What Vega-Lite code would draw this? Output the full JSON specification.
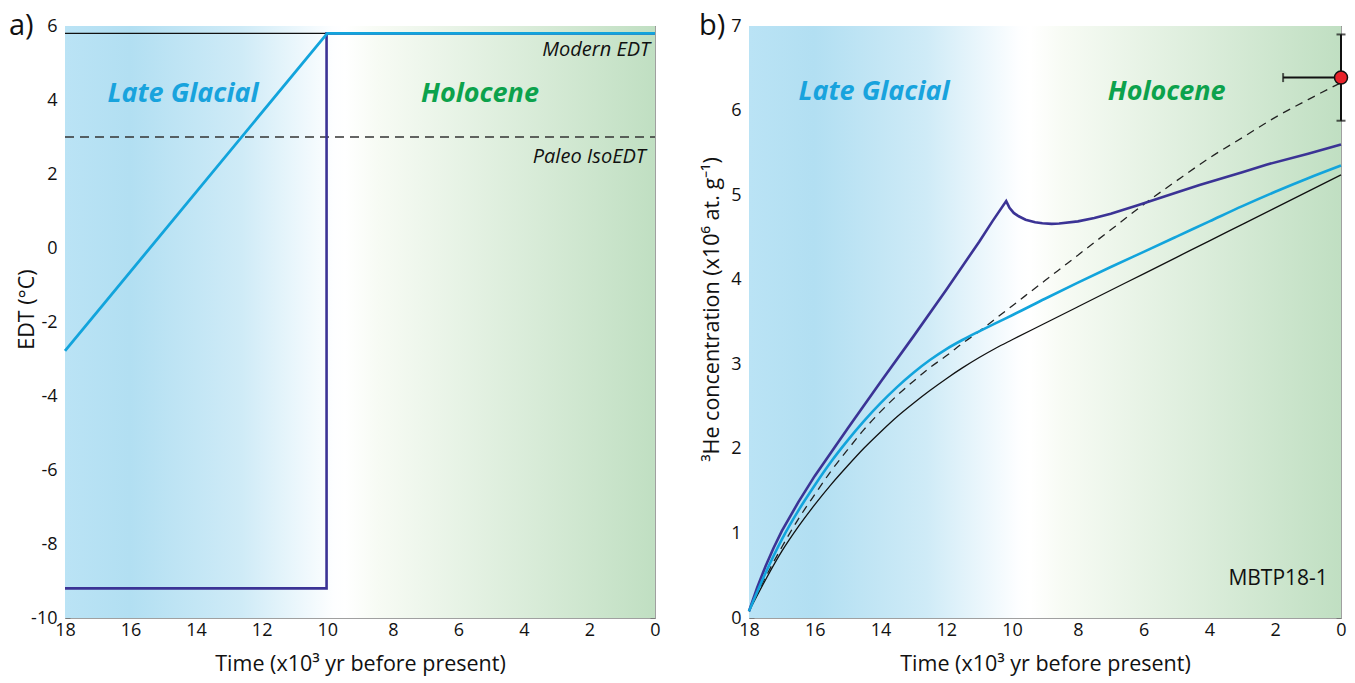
{
  "$schema": "https://vega.github.io/schema/vega-lite/v6.json",
  "background": "white",
  "padding": {"left": 8, "top": 11, "right": 5, "bottom": 4},
  "spacing": 36,
  "config": {
    "font": "Open Sans",
    "view": {"stroke": "#a0a0a0", "strokeWidth": 1},
    "axis": {
      "grid": false, "zindex": 1, "domainColor": "#a0a0a0", "domainWidth": 1,
      "tickColor": "#7a7a7a", "tickWidth": 1, "tickSize": -5,
      "labelColor": "#111111", "labelFontSize": 18, "labelFlush": false, "labelOverlap": false,
      "titleColor": "#111111", "titleFontSize": 21.5, "titleFontWeight": "normal",
      "labelExpr": "'' + datum.value"
    },
    "axisX": {"labelPadding": 8, "titlePadding": 14},
    "axisY": {"labelPadding": 13},
    "title": {"fontSize": 29, "fontWeight": "normal", "color": "#111111", "anchor": "start", "frame": "bounds"}
  },
  "datasets": {
    "edtModern": [{"t": 18, "v": 5.8}, {"t": 0, "v": 5.8}],
    "edtPaleo": [{"t": 18, "v": 3}, {"t": 0, "v": 3}],
    "edtStep": [{"t": 18, "v": -9.2}, {"t": 10.02, "v": -9.2}, {"t": 10.02, "v": 5.8}, {"t": 0, "v": 5.8}],
    "edtRamp": [{"t": 18, "v": -2.78}, {"t": 10.0, "v": 5.8}, {"t": 0, "v": 5.8}],
    "heBlack": [
      {"t": 18, "v": 0.08}, {"t": 17.5, "v": 0.45}, {"t": 17, "v": 0.79}, {"t": 16.5, "v": 1.08}, {"t": 16, "v": 1.34},
      {"t": 15.5, "v": 1.58}, {"t": 15, "v": 1.8}, {"t": 14.5, "v": 2.01}, {"t": 14, "v": 2.2}, {"t": 13.5, "v": 2.38},
      {"t": 13, "v": 2.54}, {"t": 12.5, "v": 2.69}, {"t": 12, "v": 2.83}, {"t": 11.5, "v": 2.96}, {"t": 11, "v": 3.08},
      {"t": 10.5, "v": 3.19}, {"t": 10, "v": 3.29}, {"t": 9, "v": 3.485}, {"t": 8, "v": 3.68}, {"t": 7, "v": 3.875},
      {"t": 6, "v": 4.07}, {"t": 5, "v": 4.265}, {"t": 4, "v": 4.46}, {"t": 3, "v": 4.655}, {"t": 2, "v": 4.85},
      {"t": 1, "v": 5.045}, {"t": 0, "v": 5.24}
    ],
    "heDashed": [
      {"t": 18, "v": 0.08}, {"t": 17.5, "v": 0.48}, {"t": 17, "v": 0.84}, {"t": 16.5, "v": 1.17}, {"t": 16, "v": 1.46},
      {"t": 15.5, "v": 1.74}, {"t": 15, "v": 1.99}, {"t": 14.5, "v": 2.23}, {"t": 14, "v": 2.44}, {"t": 13.5, "v": 2.63},
      {"t": 13, "v": 2.8}, {"t": 12.5, "v": 2.96}, {"t": 12, "v": 3.1}, {"t": 11.5, "v": 3.25}, {"t": 11, "v": 3.39},
      {"t": 10.4, "v": 3.57}, {"t": 10, "v": 3.69}, {"t": 9, "v": 3.99}, {"t": 8, "v": 4.29}, {"t": 7, "v": 4.59},
      {"t": 6, "v": 4.89}, {"t": 5, "v": 5.17}, {"t": 4, "v": 5.44}, {"t": 3, "v": 5.68}, {"t": 2, "v": 5.92},
      {"t": 1, "v": 6.13}, {"t": 0, "v": 6.33}
    ],
    "heCyan": [
      {"t": 18, "v": 0.08}, {"t": 17.5, "v": 0.53}, {"t": 17, "v": 0.93}, {"t": 16.5, "v": 1.27}, {"t": 16, "v": 1.57},
      {"t": 15.5, "v": 1.85}, {"t": 15, "v": 2.1}, {"t": 14.5, "v": 2.33}, {"t": 14, "v": 2.54}, {"t": 13.5, "v": 2.73},
      {"t": 13, "v": 2.9}, {"t": 12.5, "v": 3.05}, {"t": 12, "v": 3.18}, {"t": 11.5, "v": 3.29}, {"t": 11, "v": 3.39},
      {"t": 10.4, "v": 3.505}, {"t": 10, "v": 3.58}, {"t": 9, "v": 3.775}, {"t": 8, "v": 3.965}, {"t": 7, "v": 4.15},
      {"t": 6, "v": 4.33}, {"t": 5, "v": 4.51}, {"t": 4, "v": 4.69}, {"t": 3, "v": 4.87}, {"t": 2, "v": 5.04},
      {"t": 1, "v": 5.2}, {"t": 0, "v": 5.35}
    ],
    "hePurple": [
      {"t": 18, "v": 0.08}, {"t": 17.75, "v": 0.36}, {"t": 17.5, "v": 0.61}, {"t": 17.25, "v": 0.83}, {"t": 17, "v": 1.03},
      {"t": 16.5, "v": 1.37}, {"t": 16, "v": 1.68}, {"t": 15.5, "v": 1.96}, {"t": 15, "v": 2.24}, {"t": 14, "v": 2.79},
      {"t": 13, "v": 3.33}, {"t": 12, "v": 3.88}, {"t": 11, "v": 4.45}, {"t": 10.6, "v": 4.69},
      {"t": 10.18, "v": 4.93}, {"t": 10.08, "v": 4.85}, {"t": 9.95, "v": 4.79}, {"t": 9.8, "v": 4.75}, {"t": 9.59, "v": 4.71}, {"t": 9.3, "v": 4.68},
      {"t": 9.08, "v": 4.667}, {"t": 8.8, "v": 4.66}, {"t": 8.57, "v": 4.664}, {"t": 8.0, "v": 4.69}, {"t": 7.5, "v": 4.73},
      {"t": 7.0, "v": 4.78}, {"t": 6.18, "v": 4.88}, {"t": 5.0, "v": 5.03}, {"t": 4.3, "v": 5.12}, {"t": 3.0, "v": 5.27},
      {"t": 2.27, "v": 5.36}, {"t": 1.0, "v": 5.49}, {"t": 0, "v": 5.6}
    ],
    "sample": [{"t": 0, "v": 6.39, "vlo": 5.88, "vhi": 6.9, "tlo": 0, "thi": 1.76}],
    "periodA": [{"t": 14.4, "v": 4.16, "label": "Late Glacial", "period": "glacial"}, {"t": 5.34, "v": 4.16, "label": "Holocene", "period": "holocene"}],
    "periodB": [{"t": 14.2, "v": 6.22, "label": "Late Glacial", "period": "glacial"}, {"t": 5.3, "v": 6.22, "label": "Holocene", "period": "holocene"}],
    "refA": [{"t": 0.15, "v": 5.36, "label": "Modern EDT"}, {"t": 0.28, "v": 2.47, "label": "Paleo IsoEDT"}],
    "siteB": [{"t": 0.4, "v": 0.46, "label": "MBTP18-1"}]
  },
  "hconcat": [
    {
      "width": 590,
      "height": 592,
      "title": {"text": "a)", "offset": -24, "dx": -7},
      "resolve": {"axis": {"x": "independent", "y": "independent"}},
      "layer": [
        {
          "data": {"values": [{}]},
          "mark": {"type": "rect", "color": {"gradient": "linear", "x1": 0, "x2": 1, "y1": 0, "y2": 0, "stops": [
            {"offset": 0, "color": "#bae3f5"}, {"offset": 0.11, "color": "#b2dff2"}, {"offset": 0.3, "color": "#cfebf7"},
            {"offset": 0.455, "color": "#fdfeff"}, {"offset": 0.475, "color": "#ffffff"}, {"offset": 0.53, "color": "#f7fbf4"}, {"offset": 1, "color": "#c0dfc2"}]}},
          "encoding": {
            "x": {"datum": 18, "type": "quantitative", "scale": {"domain": [0, 18], "reverse": true, "nice": false, "zero": false}, "axis": null},
            "x2": {"datum": 0},
            "y": {"datum": -10, "type": "quantitative", "scale": {"domain": [-10, 6], "nice": false, "zero": false}, "axis": null},
            "y2": {"datum": 6}
          }
        },
        {
          "data": {"name": "edtModern"},
          "mark": {"type": "line", "color": "#111111", "strokeWidth": 1.3},
          "encoding": {
            "x": {"field": "t", "type": "quantitative", "scale": {"domain": [0, 18], "reverse": true, "nice": false, "zero": false},
              "axis": {"orient": "bottom", "values": [0, 2, 4, 6, 8, 10, 12, 14, 16, 18], "title": "Time (x10³ yr before present)"}},
            "y": {"field": "v", "type": "quantitative", "scale": {"domain": [-10, 6], "nice": false, "zero": false},
              "axis": {"orient": "left", "values": [-10, -8, -6, -4, -2, 0, 2, 4, 6], "title": "EDT (°C)", "minExtent": 25, "maxExtent": 25, "titlePadding": 2, "titleY": 283}}
          }
        },
        {
          "data": {"name": "edtPaleo"},
          "mark": {"type": "line", "color": "#333333", "strokeWidth": 1.3, "strokeDash": [9, 6]},
          "encoding": {
            "x": {"field": "t", "type": "quantitative", "scale": {"domain": [0, 18], "reverse": true, "nice": false, "zero": false},
              "axis": {"orient": "top", "values": [0, 2, 4, 6, 8, 10, 12, 14, 16, 18], "labels": false, "title": null}},
            "y": {"field": "v", "type": "quantitative", "scale": {"domain": [-10, 6], "nice": false, "zero": false},
              "axis": {"orient": "right", "values": [-10, -8, -6, -4, -2, 0, 2, 4, 6], "labels": false, "title": null}}
          }
        },
        {
          "data": {"name": "edtStep"},
          "mark": {"type": "line", "color": "#3b3395", "strokeWidth": 2.6},
          "encoding": {
            "x": {"field": "t", "type": "quantitative", "scale": {"domain": [0, 18], "reverse": true, "nice": false, "zero": false}, "axis": null},
            "y": {"field": "v", "type": "quantitative", "scale": {"domain": [-10, 6], "nice": false, "zero": false}, "axis": null},
            "order": {"value": null}
          }
        },
        {
          "data": {"name": "edtRamp"},
          "mark": {"type": "line", "color": "#12a4dc", "strokeWidth": 2.8},
          "encoding": {
            "x": {"field": "t", "type": "quantitative", "scale": {"domain": [0, 18], "reverse": true, "nice": false, "zero": false}, "axis": null},
            "y": {"field": "v", "type": "quantitative", "scale": {"domain": [-10, 6], "nice": false, "zero": false}, "axis": null}
          }
        },
        {
          "data": {"name": "periodA"},
          "mark": {"type": "text", "fontSize": 27, "fontWeight": "bold", "fontStyle": "italic", "align": "center", "baseline": "middle"},
          "encoding": {
            "x": {"field": "t", "type": "quantitative", "scale": {"domain": [0, 18], "reverse": true, "nice": false, "zero": false}, "axis": null},
            "y": {"field": "v", "type": "quantitative", "scale": {"domain": [-10, 6], "nice": false, "zero": false}, "axis": null},
            "text": {"field": "label"},
            "color": {"field": "period", "type": "nominal", "scale": {"domain": ["glacial", "holocene"], "range": ["#18a3dd", "#0ca24c"]}, "legend": null}
          }
        },
        {
          "data": {"name": "refA"},
          "mark": {"type": "text", "fontSize": 20, "fontStyle": "italic", "align": "right", "baseline": "middle", "color": "#111111"},
          "encoding": {
            "x": {"field": "t", "type": "quantitative", "scale": {"domain": [0, 18], "reverse": true, "nice": false, "zero": false}, "axis": null},
            "y": {"field": "v", "type": "quantitative", "scale": {"domain": [-10, 6], "nice": false, "zero": false}, "axis": null},
            "text": {"field": "label"}
          }
        }
      ]
    },
    {
      "width": 592,
      "height": 592,
      "title": {"text": "b)", "offset": -24, "dx": -2},
      "resolve": {"axis": {"x": "independent", "y": "independent"}},
      "layer": [
        {
          "data": {"values": [{}]},
          "mark": {"type": "rect", "color": {"gradient": "linear", "x1": 0, "x2": 1, "y1": 0, "y2": 0, "stops": [
            {"offset": 0, "color": "#bae3f5"}, {"offset": 0.11, "color": "#b2dff2"}, {"offset": 0.3, "color": "#cfebf7"},
            {"offset": 0.455, "color": "#fdfeff"}, {"offset": 0.475, "color": "#ffffff"}, {"offset": 0.53, "color": "#f7fbf4"}, {"offset": 1, "color": "#c0dfc2"}]}},
          "encoding": {
            "x": {"datum": 18, "type": "quantitative", "scale": {"domain": [0, 18], "reverse": true, "nice": false, "zero": false}, "axis": null},
            "x2": {"datum": 0},
            "y": {"datum": 0, "type": "quantitative", "scale": {"domain": [0, 7], "nice": false, "zero": false}, "axis": null},
            "y2": {"datum": 7}
          }
        },
        {
          "data": {"name": "heBlack"},
          "mark": {"type": "line", "color": "#111111", "strokeWidth": 1.3, "interpolate": "monotone"},
          "encoding": {
            "x": {"field": "t", "type": "quantitative", "scale": {"domain": [0, 18], "reverse": true, "nice": false, "zero": false},
              "axis": {"orient": "bottom", "values": [0, 2, 4, 6, 8, 10, 12, 14, 16, 18], "title": "Time (x10³ yr before present)"}},
            "y": {"field": "v", "type": "quantitative", "scale": {"domain": [0, 7], "nice": false, "zero": false},
              "axis": {"orient": "left", "values": [0, 1, 2, 3, 4, 5, 6, 7], "title": "³He concentration (x10⁶ at. g⁻¹)", "minExtent": 18, "maxExtent": 18, "titlePadding": 8, "titleY": 283}}
          }
        },
        {
          "data": {"name": "heDashed"},
          "mark": {"type": "line", "color": "#222222", "strokeWidth": 1.3, "strokeDash": [8, 6], "interpolate": "monotone"},
          "encoding": {
            "x": {"field": "t", "type": "quantitative", "scale": {"domain": [0, 18], "reverse": true, "nice": false, "zero": false},
              "axis": {"orient": "top", "values": [0, 2, 4, 6, 8, 10, 12, 14, 16, 18], "labels": false, "title": null}},
            "y": {"field": "v", "type": "quantitative", "scale": {"domain": [0, 7], "nice": false, "zero": false},
              "axis": {"orient": "right", "values": [0, 1, 2, 3, 4, 5, 6, 7], "labels": false, "title": null}}
          }
        },
        {
          "data": {"name": "hePurple"},
          "mark": {"type": "line", "color": "#3b3395", "strokeWidth": 2.6},
          "encoding": {
            "x": {"field": "t", "type": "quantitative", "scale": {"domain": [0, 18], "reverse": true, "nice": false, "zero": false}, "axis": null},
            "y": {"field": "v", "type": "quantitative", "scale": {"domain": [0, 7], "nice": false, "zero": false}, "axis": null}
          }
        },
        {
          "data": {"name": "heCyan"},
          "mark": {"type": "line", "color": "#12a4dc", "strokeWidth": 2.6, "interpolate": "monotone"},
          "encoding": {
            "x": {"field": "t", "type": "quantitative", "scale": {"domain": [0, 18], "reverse": true, "nice": false, "zero": false}, "axis": null},
            "y": {"field": "v", "type": "quantitative", "scale": {"domain": [0, 7], "nice": false, "zero": false}, "axis": null}
          }
        },
        {
          "data": {"name": "sample"},
          "mark": {"type": "rule", "color": "#111111", "strokeWidth": 2},
          "encoding": {
            "x": {"field": "t", "type": "quantitative", "scale": {"domain": [0, 18], "reverse": true, "nice": false, "zero": false}, "axis": null},
            "y": {"field": "vlo", "type": "quantitative", "scale": {"domain": [0, 7], "nice": false, "zero": false}, "axis": null},
            "y2": {"field": "vhi"}
          }
        },
        {
          "data": {"name": "sample"},
          "mark": {"type": "rule", "color": "#111111", "strokeWidth": 2},
          "encoding": {
            "x": {"field": "tlo", "type": "quantitative", "scale": {"domain": [0, 18], "reverse": true, "nice": false, "zero": false}, "axis": null},
            "x2": {"field": "thi"},
            "y": {"field": "v", "type": "quantitative", "scale": {"domain": [0, 7], "nice": false, "zero": false}, "axis": null}
          }
        },
        {
          "data": {"name": "sample"},
          "mark": {"type": "tick", "orient": "horizontal", "color": "#111111", "size": 9, "thickness": 2},
          "encoding": {
            "x": {"field": "t", "type": "quantitative", "scale": {"domain": [0, 18], "reverse": true, "nice": false, "zero": false}, "axis": null},
            "y": {"field": "vlo", "type": "quantitative", "scale": {"domain": [0, 7], "nice": false, "zero": false}, "axis": null}
          }
        },
        {
          "data": {"name": "sample"},
          "mark": {"type": "tick", "orient": "horizontal", "color": "#111111", "size": 9, "thickness": 2},
          "encoding": {
            "x": {"field": "t", "type": "quantitative", "scale": {"domain": [0, 18], "reverse": true, "nice": false, "zero": false}, "axis": null},
            "y": {"field": "vhi", "type": "quantitative", "scale": {"domain": [0, 7], "nice": false, "zero": false}, "axis": null}
          }
        },
        {
          "data": {"name": "sample"},
          "mark": {"type": "tick", "orient": "vertical", "color": "#111111", "size": 9, "thickness": 2},
          "encoding": {
            "x": {"field": "thi", "type": "quantitative", "scale": {"domain": [0, 18], "reverse": true, "nice": false, "zero": false}, "axis": null},
            "y": {"field": "v", "type": "quantitative", "scale": {"domain": [0, 7], "nice": false, "zero": false}, "axis": null}
          }
        },
        {
          "data": {"name": "sample"},
          "mark": {"type": "point", "shape": "circle", "filled": true, "fill": "#e8222a", "stroke": "#111111", "strokeWidth": 1.5, "size": 170, "opacity": 1},
          "encoding": {
            "x": {"field": "t", "type": "quantitative", "scale": {"domain": [0, 18], "reverse": true, "nice": false, "zero": false}, "axis": null},
            "y": {"field": "v", "type": "quantitative", "scale": {"domain": [0, 7], "nice": false, "zero": false}, "axis": null}
          }
        },
        {
          "data": {"name": "periodB"},
          "mark": {"type": "text", "fontSize": 27, "fontWeight": "bold", "fontStyle": "italic", "align": "center", "baseline": "middle"},
          "encoding": {
            "x": {"field": "t", "type": "quantitative", "scale": {"domain": [0, 18], "reverse": true, "nice": false, "zero": false}, "axis": null},
            "y": {"field": "v", "type": "quantitative", "scale": {"domain": [0, 7], "nice": false, "zero": false}, "axis": null},
            "text": {"field": "label"},
            "color": {"field": "period", "type": "nominal", "scale": {"domain": ["glacial", "holocene"], "range": ["#18a3dd", "#0ca24c"]}, "legend": null}
          }
        },
        {
          "data": {"name": "siteB"},
          "mark": {"type": "text", "fontSize": 21, "align": "right", "baseline": "middle", "color": "#111111"},
          "encoding": {
            "x": {"field": "t", "type": "quantitative", "scale": {"domain": [0, 18], "reverse": true, "nice": false, "zero": false}, "axis": null},
            "y": {"field": "v", "type": "quantitative", "scale": {"domain": [0, 7], "nice": false, "zero": false}, "axis": null},
            "text": {"field": "label"}
          }
        }
      ]
    }
  ]
}
